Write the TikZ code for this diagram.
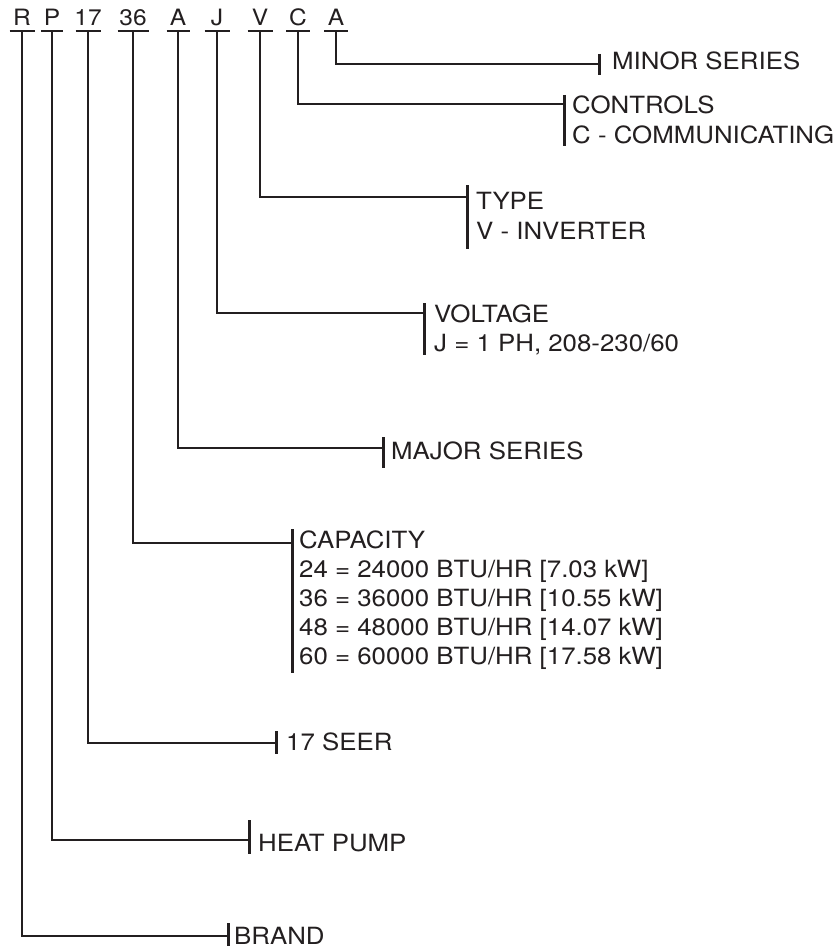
\documentclass[tikz,border=0pt]{standalone}
\usepackage{fontspec}
\setmainfont{TeX Gyre Heros}[FakeStretch=1.09]
\definecolor{ink}{HTML}{231F20}
\tikzset{
  lead/.style={draw=ink, line width=2.7pt, line join=miter},
  tickbar/.style={draw=ink, line width=3pt},
  uline/.style={draw=ink, line width=2.4pt},
  code/.style={inner sep=0pt, anchor=base, text=ink, font=\fontsize{22.5}{25}\selectfont},
  lbl/.style={inner sep=0pt, anchor=base west, text=ink, font=\fontsize{23.7}{27}\selectfont},
}
\begin{document}
\begin{tikzpicture}[x=1pt,y=-1pt]
\useasboundingbox (0,0) rectangle (838,952);
% code characters
\foreach \n/\x/\w/\t in {1/22/12.5/R,2/52/11/P,3/88/12.5/17,4/133/15.5/36,5/178/11.5/A,6/217/12.5/J,7/260/12.5/V,8/298/12/C,9/336/12/A}{
  \node[code] (c\n) at (\x,25.5) {\t};
  \coordinate (u\n) at (\x,31);
  \draw[uline] (\x-\w,31) -- (\x+\w,31);
}
% tick coordinates
\coordinate (t9) at (599,64);  \coordinate (t9a) at (599,54);  \coordinate (t9b) at (599,75);
\coordinate (t8) at (564,104); \coordinate (t8a) at (564,95);  \coordinate (t8b) at (564,146);
\coordinate (t7) at (467,197); \coordinate (t7a) at (467,185); \coordinate (t7b) at (467,249);
\coordinate (t6) at (424,313); \coordinate (t6a) at (424,303); \coordinate (t6b) at (424,355);
\coordinate (t5) at (383,448); \coordinate (t5a) at (383,437); \coordinate (t5b) at (383,468);
\coordinate (t4) at (292,543); \coordinate (t4a) at (292,529); \coordinate (t4b) at (292,673);
\coordinate (t3) at (276,743); \coordinate (t3a) at (276,731); \coordinate (t3b) at (276,754);
\coordinate (t2) at (249,840); \coordinate (t2a) at (249,820); \coordinate (t2b) at (249,854);
\coordinate (t1) at (228,936); \coordinate (t1a) at (228,923); \coordinate (t1b) at (228,946);
\foreach \n in {1,...,9}{
  \draw[lead] (u\n) |- (t\n);
  \draw[tickbar] (t\n a) -- (t\n b);
}
% labels
\node[lbl] (l9) at (612,69.5) {MINOR SERIES};
\node[lbl] (l8) at (572,113.5) {CONTROLS};
\node[lbl] (l8b) at (572,143.5) {C - COMMUNICATING};
\node[lbl] (l7) at (476,209) {TYPE};
\node[lbl] (l7b) at (476,239) {V - INVERTER};
\node[lbl] (l6) at (434,322) {VOLTAGE};
\node[lbl] (l6b) at (434,351) {J = 1 PH, 208-230/60};
\node[lbl] (l5) at (391,459.5) {MAJOR SERIES};
\node[lbl] (l4) at (299,548) {CAPACITY};
\node[lbl] (l4b) at (299,577) {24 = 24000 BTU/HR [7.03 kW]};
\node[lbl] (l4c) at (299,606) {36 = 36000 BTU/HR [10.55 kW]};
\node[lbl] (l4d) at (299,635) {48 = 48000 BTU/HR [14.07 kW]};
\node[lbl] (l4e) at (299,664) {60 = 60000 BTU/HR [17.58 kW]};
\node[lbl] (l3) at (286,750.5) {17 SEER};
\node[lbl] (l2) at (258,851) {HEAT PUMP};
\node[lbl] (l1) at (234,944) {BRAND};
\end{tikzpicture}
\end{document}
